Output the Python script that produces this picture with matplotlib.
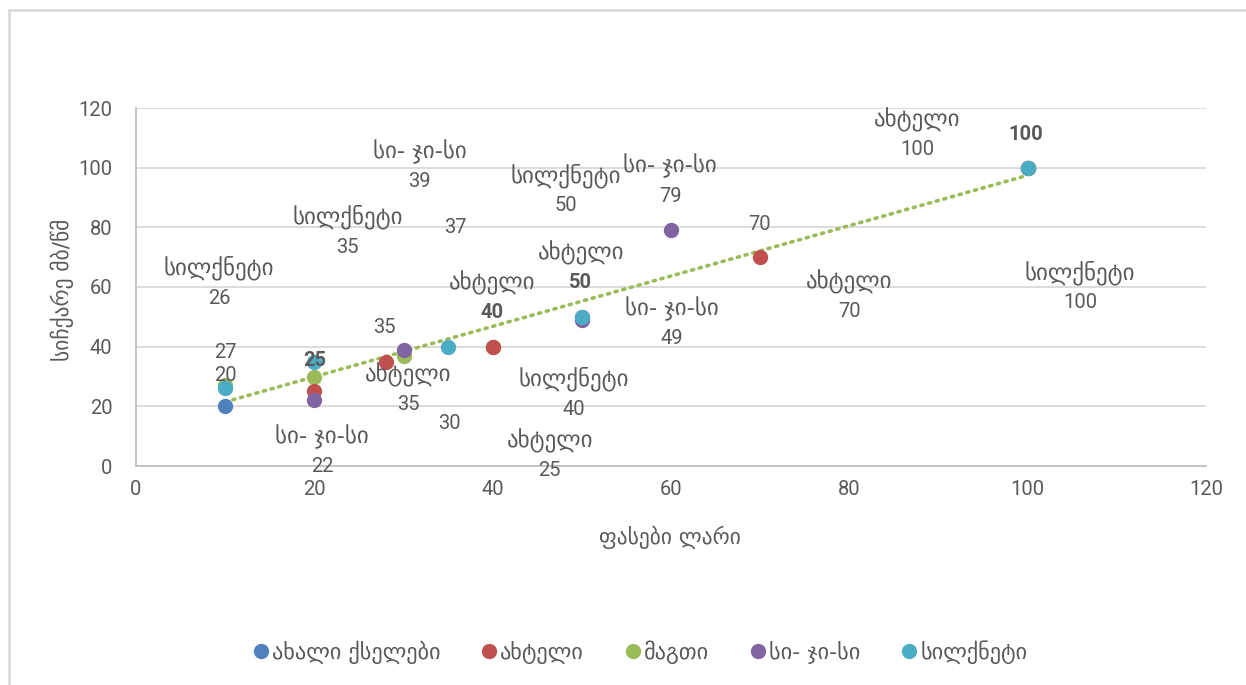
import numpy as np
import matplotlib
matplotlib.use("Agg")
import matplotlib.pyplot as plt
from matplotlib.lines import Line2D

plt.rcParams['font.family'] = ['Roboto', 'DejaVu Sans']

# ---------------- data ----------------
series_names = ["ახალი ქსელები", "ახტელი", "მაგთი", "სი- ჯი-სი", "სილქნეტი"]
x_akhali = [10, 100]
y_akhali = [20, 100]
x_akhteli = [20, 28, 40, 50, 70, 100]
y_akhteli = [25, 35, 40, 50, 70, 100]
x_magti = [10, 20, 30, 40, 100]
y_magti = [27, 30, 37, 40, 100]
x_cgc = [20, 30, 50, 60]
y_cgc = [22, 39, 49, 79]
x_silk = [10, 20, 35, 50, 100]
y_silk = [26, 35, 40, 50, 100]

x_title = "ფასები ლარი"
y_title = "სიჩქარე მბ/წმ"
x_ticks = [0, 20, 40, 60, 80, 100, 120]
y_ticks = [0, 20, 40, 60, 80, 100, 120]

# data labels: (series index or None, value text)
label_texts = [
    (3, "39"), (4, "35"), (4, "26"), (None, "37"), (4, "50"), (3, "79"),
    (1, "50"), (1, "40"), (3, "49"), (1, "35"), (None, "30"), (4, "40"),
    (1, "25"), (3, "22"), (1, "100"), (1, "70"), (4, "100"),
    (None, "27"), (None, "20"), (None, "25"), (None, "35"), (None, "70"), (None, "100"),
]
# layout (positions in data coords, bold flag) for the labels above
label_layout = [
    (31.8, 100.2, False), (23.7, 78.4, False), (9.3, 61.3, False), (35.8, 80.1, False),
    (48.2, 92.2, False), (59.9, 95.5, False), (49.9, 66.4, True), (39.9, 56.3, True),
    (60.1, 47.9, False), (30.5, 25.5, False), (35.2, 14.1, False), (49.1, 24.1, False),
    (46.4, 3.4, False), (20.9, 4.7, False), (87.6, 111.0, False), (80.0, 56.7, False),
    (105.9, 59.7, False),
    (10.0, 37.9, False), (10.0, 30.5, False), (20.0, 35.5, True), (27.9, 46.3, False),
    (69.9, 80.8, False), (99.8, 111.0, True),
]

colors = ["#4F81BD", "#C0504D", "#9BBB59", "#8064A2", "#4BACC6"]
zorders = [3.0, 3.2, 3.1, 3.3, 3.4]
text_col = "#595959"
geo_size = 16.5
num_size = 14.5

W, H = 1246, 685
fig = plt.figure(figsize=(W / 100, H / 100), dpi=100)

# chart area border (left & top visible)
fig.add_artist(Line2D([9 / W, 9 / W], [0, 1 - 10 / H], transform=fig.transFigure, color="#d9d9d9", lw=1.8))
fig.add_artist(Line2D([9 / W, 1], [1 - 10 / H, 1 - 10 / H], transform=fig.transFigure, color="#d9d9d9", lw=1.8))

ax = fig.add_axes([136 / W, 1 - 466 / H, (1206 - 136) / W, (466 - 108) / H])
ax.set_xlim(0, 120)
ax.set_ylim(0, 120)
ax.set_xticks(x_ticks)
ax.set_yticks(y_ticks)
ax.tick_params(length=0, labelsize=num_size, colors=text_col)
ax.tick_params(axis="y", pad=17)
ax.tick_params(axis="x", pad=10)
ax.grid(axis="y", color="#d9d9d9", lw=1.3)
ax.set_axisbelow(True)
for s in ["top", "right"]:
    ax.spines[s].set_visible(False)
for s in ["left", "bottom"]:
    ax.spines[s].set_color("#bfbfbf")
    ax.spines[s].set_linewidth(1.3)

all_x = [x_akhali, x_akhteli, x_magti, x_cgc, x_silk]
all_y = [y_akhali, y_akhteli, y_magti, y_cgc, y_silk]

# trendline (linear fit of მაგთი series)
coef = np.polyfit(x_magti, y_magti, 1)
tx = np.array([min(x_magti), max(x_magti)])
ax.plot(tx, np.polyval(coef, tx), color="#9BBB59", lw=2.6, ls=(0, (0.6, 1.6)),
        dash_capstyle="round", zorder=2)

for xs, ys, c, n, z in zip(all_x, all_y, colors, series_names, zorders):
    ax.plot(xs, ys, ls="none", marker="o", ms=10, color=c, mec=c, label=n, zorder=z, clip_on=False)

for (si, val), (lx, ly, bold) in zip(label_texts, label_layout):
    if si is None:
        ax.text(lx, ly, val, ha="center", va="center", fontsize=num_size, color=text_col,
                fontweight="bold" if bold else "normal", zorder=4)
    else:
        ax.text(lx, ly + 5.0, series_names[si], ha="center", va="center", fontsize=geo_size,
                color=text_col, family=["DejaVu Sans"], zorder=4)
        ax.text(lx, ly - 5.0, val, ha="center", va="center", fontsize=num_size, color=text_col,
                fontweight="bold" if bold else "normal", zorder=4)

fig.text(670 / W, 1 - 537 / H, x_title, ha="center", va="center", fontsize=15.5,
         color=text_col, family=["DejaVu Sans"])
fig.text(62 / W, 1 - 290 / H, y_title, ha="center", va="center", fontsize=15.5,
         color=text_col, rotation=90, family=["DejaVu Sans"])

handles = [Line2D([], [], ls="none", marker="o", ms=10, color=c) for c in colors]
leg = fig.legend(handles, series_names, loc="center", bbox_to_anchor=(639 / W, 1 - 652 / H),
                 ncol=5, frameon=False, handletextpad=0.05, columnspacing=1.75,
                 prop={"family": ["DejaVu Sans"], "size": 16}, handlelength=0.9)
for t in leg.get_texts():
    t.set_color(text_col)

fig.savefig("out.png", dpi=100)
